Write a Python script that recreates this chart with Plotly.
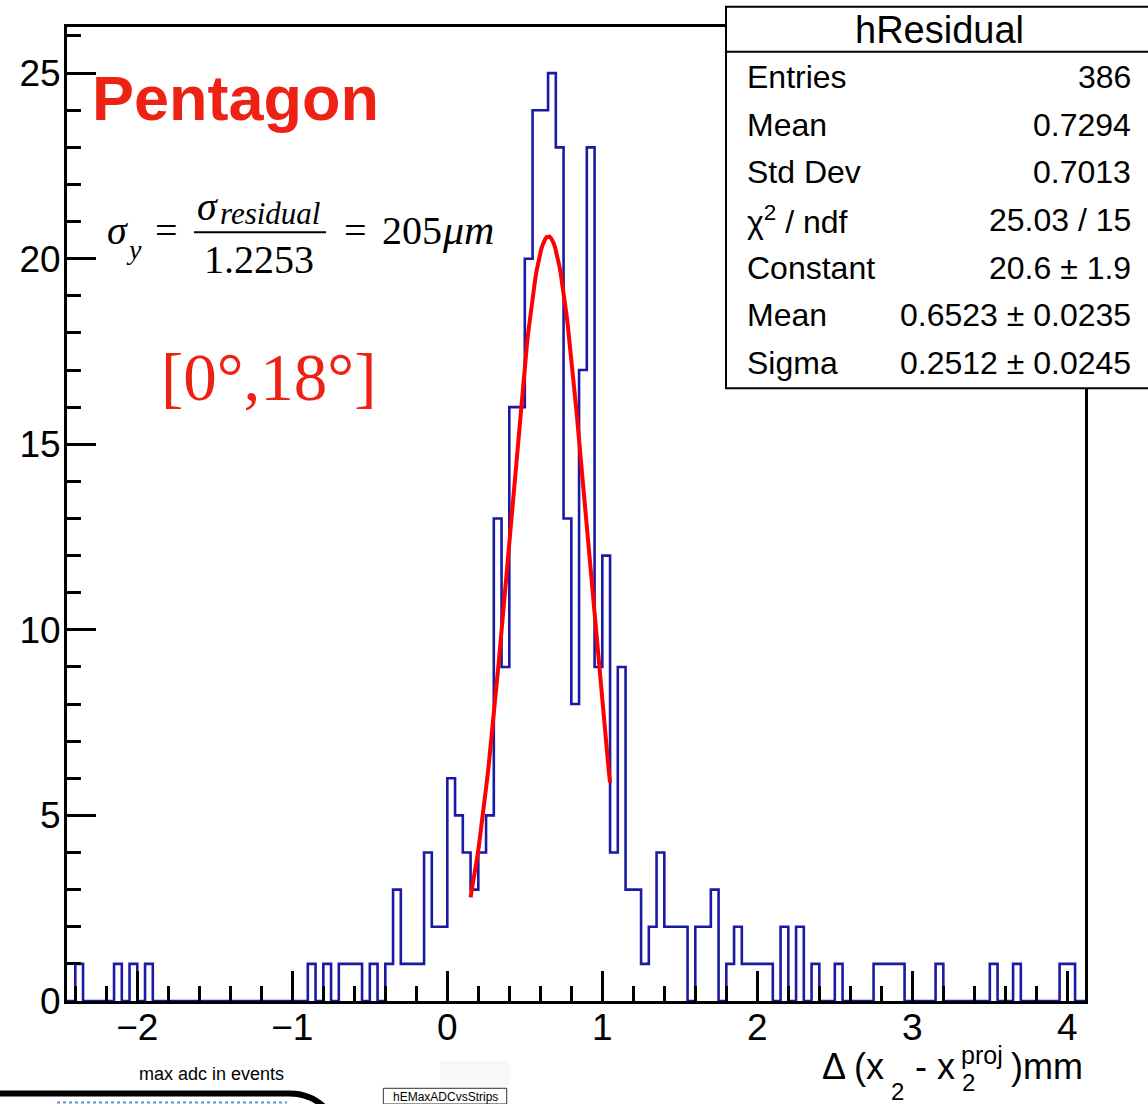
import numpy as np
import plotly.graph_objects as go

W, H = 1148, 1104

# ---- hResidual histogram: 0.05 mm bins, first bin starts at -2.45 ----
bin_width = 0.05
first_edge = -2.45
counts = [
    0, 1, 0, 0, 0, 0, 1, 0, 1, 0,          # -2.45 .. -2.00
    1, 0, 0, 0, 0, 0, 0, 0, 0, 0,          # -1.95 .. -1.50
    0, 0, 0, 0, 0, 0, 0, 0, 0, 0,          # -1.45 .. -1.00
    0, 1, 0, 1, 0, 1, 1, 1, 0, 1,          # -0.95 .. -0.50
    0, 1, 3, 1, 1, 1, 4, 2, 2, 6,          # -0.45 ..  0.00
    5, 4, 3, 4, 5, 13, 9, 16, 16, 20,      #  0.05 ..  0.50
    24, 24, 25, 23, 13, 8, 17, 23, 9, 12,  #  0.55 ..  1.00
    4, 9, 3, 3, 1, 2, 4, 2, 2, 2,          #  1.05 ..  1.50
    0, 2, 2, 3, 0, 1, 2, 1, 1, 1,          #  1.55 ..  2.00
    1, 0, 2, 0, 2, 0, 1, 0, 0, 1,          #  2.05 ..  2.50
    0, 0, 0, 0, 1, 1, 1, 1, 0, 0,          #  2.55 ..  3.00
    0, 0, 1, 0, 0, 0, 0, 0, 0, 1,          #  3.05 ..  3.50
    0, 0, 1, 0, 0, 0, 0, 0, 1, 1,          #  3.55 ..  4.00
    0, 0,                                  #  4.05 ..  4.10
]

# ---- Gaussian fit result ----
fit_constant = 20.6
fit_mean = 0.6523
fit_sigma = 0.2512
fit_range = (0.15, 1.05)

# ---- statistics box ----
stats_title = "hResidual"
stat_labels = ["Entries", "Mean", "Std Dev", "χ<sup>2</sup> / ndf",
               "Constant", "Mean", "Sigma"]
stat_values = ["386", "0.7294", "0.7013", "25.03 / 15",
               "20.6 ± 1.9", "0.6523 ± 0.0235", "0.2512 ± 0.0245"]

x_range = [-2.4555, 4.114]
y_range = [0, 26.25]


def px(x):
    return x / W


def py(y):
    return 1 - y / H


SANS = "Liberation Sans, Arial, Helvetica, sans-serif"
SERIF = "Liberation Serif, Times New Roman, serif"
RED = "#ee2214"

# histogram outline as a step line
edges = [first_edge + bin_width * i for i in range(len(counts) + 1)]
step_y = list(counts) + [counts[-1]]
edges = [first_edge - bin_width] + edges
step_y = [0] + step_y

fig = go.Figure()
fig.add_trace(go.Scatter(
    x=edges, y=step_y, mode="lines", line_shape="hv",
    line=dict(color="#1a1aa4", width=2.6), hoverinfo="skip", showlegend=False,
))

xf = np.linspace(fit_range[0], fit_range[1], 100)
yf = fit_constant * np.exp(-0.5 * ((xf - fit_mean) / fit_sigma) ** 2)
fig.add_trace(go.Scatter(
    x=xf, y=yf, mode="lines", line=dict(color="#ff0000", width=4),
    hoverinfo="skip", showlegend=False,
))

axis_common = dict(
    showgrid=False, zeroline=False, showline=True, linecolor="black",
    linewidth=2.5, mirror=True, ticks="inside", ticklen=30, tickwidth=2.5,
    tickcolor="black", tickfont=dict(family=SANS, size=37, color="black"),
    automargin=False,
)

fig.update_layout(
    width=W, height=H,
    margin=dict(l=0, r=0, t=0, b=0, pad=0, autoexpand=False),
    paper_bgcolor="white", plot_bgcolor="white",
    xaxis=dict(
        domain=[px(66.7), px(1085)], range=x_range, tick0=0, dtick=1,
        minor=dict(dtick=0.2, tick0=0, ticks="inside", ticklen=15,
                   tickwidth=2.5, tickcolor="black"),
        ticklabelstandoff=-8, **axis_common,
    ),
    yaxis=dict(
        domain=[py(1001), py(26.7)], range=y_range, tick0=0, dtick=5,
        minor=dict(dtick=1, tick0=0, ticks="inside", ticklen=15,
                   tickwidth=2.5, tickcolor="black"),
        ticklabelstandoff=-4, **axis_common,
    ),
)

shapes = []
annotations = []


def text(x, y, s, size, family=SANS, color="black", xanchor="left",
         yanchor="middle"):
    annotations.append(dict(
        x=px(x), y=py(y), xref="paper", yref="paper", text=s,
        showarrow=False, xanchor=xanchor, yanchor=yanchor,
        font=dict(family=family, size=size, color=color), borderpad=0,
    ))


# statistics box
shapes.append(dict(type="rect", xref="paper", yref="paper",
                   x0=px(726), x1=px(1170), y0=py(388.3), y1=py(6.7),
                   line=dict(color="black", width=2), fillcolor="white",
                   layer="above"))
shapes.append(dict(type="line", xref="paper", yref="paper",
                   x0=px(726), x1=px(1170), y0=py(51.7), y1=py(51.7),
                   line=dict(color="black", width=2), layer="above"))
text(939, 30, stats_title, 38, xanchor="center")
for k, (lab, val) in enumerate(zip(stat_labels, stat_values)):
    yc = 77 + 47.7 * k
    text(746, yc, lab, 32)
    text(1132, yc, val, 32, xanchor="right")

# labels inside the frame
text(91, 98, "<b>Pentagon</b>", 63, color=RED)
text(160, 377, "[0°,18°]", 67, family=SERIF, color=RED)

# sigma_y = sigma_residual / 1.2253 = 205 um
text(106, 230, "<i>σ</i>", 40, family=SERIF)
text(125, 249, "<i>y</i>", 28, family=SERIF)
text(166, 231, "=", 40, family=SERIF, xanchor="center")
text(196, 206, "<i>σ</i>", 40, family=SERIF)
text(219, 213, "<i>residual</i>", 31, family=SERIF)
shapes.append(dict(type="line", xref="paper", yref="paper",
                   x0=px(194), x1=px(326), y0=py(232.3), y1=py(232.3),
                   line=dict(color="black", width=2)))
text(259, 260, "1.2253", 40, family=SERIF, xanchor="center")
text(355, 231, "=", 40, family=SERIF, xanchor="center")
text(381, 230, "205", 40, family=SERIF)
text(441, 230, "<i>μm</i>", 42, family=SERIF)

# x-axis title: Delta (x_2 - x_2^proj) mm
text(821, 1066, "Δ (x", 36)
text(890, 1091, "2", 24)
text(914, 1066, "- x", 36)
text(961, 1082, "2", 24)
text(960, 1055, "proj", 25)
text(1084, 1066, ")mm", 36, xanchor="right")

# neighbouring canvas peeking in at the bottom
shapes.append(dict(type="rect", xref="paper", yref="paper",
                   x0=px(440), x1=px(510), y0=py(1093), y1=py(1061),
                   line=dict(width=0), fillcolor="#f8f8f8", layer="below"))
text(211, 1074, "max adc in events", 18, xanchor="center")
bx0, by0, bx1, r = -20, 1093.5, 340, 50
path = (f"M {px(bx0)} {py(by0)} L {px(bx1 - r)} {py(by0)} "
        f"C {px(bx1 - r + 0.552 * r)} {py(by0)} {px(bx1)} {py(by0 + r - 0.552 * r)} "
        f"{px(bx1)} {py(by0 + r)}")
shapes.append(dict(type="path", xref="paper", yref="paper", path=path,
                   line=dict(color="black", width=6)))
shapes.append(dict(type="line", xref="paper", yref="paper",
                   x0=px(57), x1=px(287), y0=py(1102.5), y1=py(1102.5),
                   line=dict(color="#5b8fd6", width=2, dash="dot")))
shapes.append(dict(type="rect", xref="paper", yref="paper",
                   x0=px(383.3), x1=px(506.7), y0=py(1104), y1=py(1088.3),
                   line=dict(color="#333333", width=1), fillcolor="white"))
text(445, 1096.5, "hEMaxADCvsStrips", 12, xanchor="center")

fig.update_layout(shapes=shapes, annotations=annotations)
fig.write_html("out.html")
